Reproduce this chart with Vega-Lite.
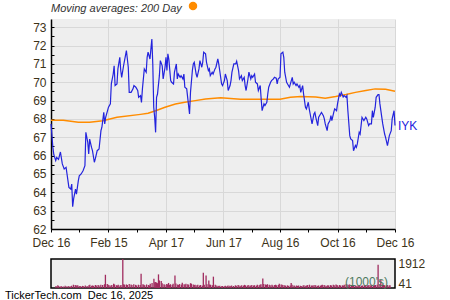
{
  "$schema": "https://vega.github.io/schema/vega-lite/v6.json",
  "autosize": {"type": "pad"},
  "padding": {"left": 5, "top": 1, "right": 5, "bottom": 0},
  "config": {"font": "Liberation Sans", "view": {"stroke": null}, "axis": {"labelOverlap": false}},
  "title": {"text": "TickerTech.com\u00a0\u00a0Dec 16, 2025", "orient": "bottom", "anchor": "start", "frame": "group", "dx": -46, "offset": 0, "fontSize": 11, "fontWeight": "normal", "color": "#000000"},
  "datasets": {
    "prices": [
      {"date":"2024-12-16","close":67.73,"volume":150},{"date":"2024-12-18","close":66.45,"volume":210},{"date":"2024-12-19","close":66.05,"volume":160},{"date":"2024-12-21","close":65.73,"volume":120},{"date":"2024-12-22","close":65.9,"volume":140},{"date":"2024-12-24","close":65.8,"volume":110},{"date":"2024-12-26","close":66.2,"volume":170},{"date":"2024-12-28","close":65.55,"volume":130},{"date":"2024-12-30","close":65.27,"volume":160},
      {"date":"2025-01-01","close":65.36,"volume":120},{"date":"2025-01-02","close":65.0,"volume":180},{"date":"2025-01-04","close":64.27,"volume":260},{"date":"2025-01-06","close":64.18,"volume":230},{"date":"2025-01-07","close":64.45,"volume":170},{"date":"2025-01-08","close":63.22,"volume":220},{"date":"2025-01-09","close":63.64,"volume":190},{"date":"2025-01-11","close":64.18,"volume":150},{"date":"2025-01-12","close":63.9,"volume":130},{"date":"2025-01-14","close":64.64,"volume":170},{"date":"2025-01-15","close":64.9,"volume":140},{"date":"2025-01-17","close":65.0,"volume":190},{"date":"2025-01-19","close":65.18,"volume":160},{"date":"2025-01-21","close":65.45,"volume":210},{"date":"2025-01-22","close":67.27,"volume":250},{"date":"2025-01-24","close":66.73,"volume":180},{"date":"2025-01-25","close":66.09,"volume":200},{"date":"2025-01-26","close":66.9,"volume":170},{"date":"2025-01-28","close":66.45,"volume":230},{"date":"2025-01-29","close":66.27,"volume":190},{"date":"2025-01-31","close":65.64,"volume":240},
      {"date":"2025-02-01","close":65.82,"volume":200},{"date":"2025-02-03","close":66.27,"volume":260},{"date":"2025-02-05","close":66.36,"volume":230},{"date":"2025-02-07","close":67.36,"volume":300},{"date":"2025-02-08","close":67.55,"volume":1050},{"date":"2025-02-10","close":68.36,"volume":320},{"date":"2025-02-11","close":67.73,"volume":250},{"date":"2025-02-12","close":68.09,"volume":210},{"date":"2025-02-14","close":68.45,"volume":190},{"date":"2025-02-15","close":68.64,"volume":230},{"date":"2025-02-17","close":68.82,"volume":340},{"date":"2025-02-18","close":69.91,"volume":280},{"date":"2025-02-20","close":70.45,"volume":220},{"date":"2025-02-21","close":70.9,"volume":200},{"date":"2025-02-22","close":69.82,"volume":260},{"date":"2025-02-24","close":69.91,"volume":190},{"date":"2025-02-25","close":70.73,"volume":240},{"date":"2025-02-27","close":71.36,"volume":2300},{"date":"2025-02-28","close":70.64,"volume":300},
      {"date":"2025-03-01","close":70.27,"volume":260},{"date":"2025-03-03","close":70.9,"volume":280},{"date":"2025-03-04","close":71.18,"volume":240},{"date":"2025-03-06","close":71.73,"volume":310},{"date":"2025-03-08","close":70.82,"volume":270},{"date":"2025-03-09","close":69.45,"volume":230},{"date":"2025-03-11","close":69.45,"volume":290},{"date":"2025-03-13","close":69.64,"volume":250},{"date":"2025-03-14","close":69.82,"volume":200},{"date":"2025-03-16","close":69.73,"volume":260},{"date":"2025-03-18","close":69.55,"volume":240},{"date":"2025-03-19","close":69.18,"volume":1130},{"date":"2025-03-21","close":69.27,"volume":300},{"date":"2025-03-22","close":68.9,"volume":250},{"date":"2025-03-23","close":69.64,"volume":220},{"date":"2025-03-25","close":70.73,"volume":280},{"date":"2025-03-27","close":70.55,"volume":240},{"date":"2025-03-28","close":71.36,"volume":200},{"date":"2025-03-29","close":71.64,"volume":330},{"date":"2025-03-31","close":71.27,"volume":390},
      {"date":"2025-04-02","close":72.36,"volume":730},{"date":"2025-04-03","close":71.0,"volume":450},{"date":"2025-04-04","close":68.64,"volume":480},{"date":"2025-04-05","close":68.09,"volume":420},{"date":"2025-04-06","close":67.27,"volume":380},{"date":"2025-04-07","close":69.18,"volume":1080},{"date":"2025-04-08","close":69.36,"volume":600},{"date":"2025-04-10","close":70.36,"volume":560},{"date":"2025-04-11","close":71.18,"volume":380},{"date":"2025-04-13","close":70.9,"volume":300},{"date":"2025-04-14","close":70.18,"volume":260},{"date":"2025-04-16","close":70.82,"volume":320},{"date":"2025-04-17","close":71.36,"volume":280},{"date":"2025-04-18","close":70.64,"volume":400},{"date":"2025-04-19","close":71.55,"volume":240},{"date":"2025-04-20","close":71.27,"volume":300},{"date":"2025-04-22","close":70.09,"volume":260},{"date":"2025-04-23","close":70.0,"volume":330},{"date":"2025-04-25","close":69.91,"volume":1000},{"date":"2025-04-26","close":70.55,"volume":350},{"date":"2025-04-28","close":71.0,"volume":280},{"date":"2025-04-29","close":70.18,"volume":240},{"date":"2025-04-30","close":70.45,"volume":310},
      {"date":"2025-05-02","close":70.27,"volume":270},{"date":"2025-05-03","close":70.36,"volume":420},{"date":"2025-05-05","close":70.18,"volume":300},{"date":"2025-05-06","close":70.45,"volume":250},{"date":"2025-05-07","close":69.73,"volume":340},{"date":"2025-05-09","close":69.64,"volume":300},{"date":"2025-05-10","close":69.18,"volume":260},{"date":"2025-05-12","close":68.27,"volume":380},{"date":"2025-05-13","close":69.45,"volume":340},{"date":"2025-05-15","close":70.64,"volume":280},{"date":"2025-05-16","close":71.0,"volume":230},{"date":"2025-05-17","close":71.09,"volume":260},{"date":"2025-05-19","close":70.45,"volume":210},{"date":"2025-05-20","close":70.27,"volume":250},{"date":"2025-05-22","close":70.73,"volume":200},{"date":"2025-05-23","close":71.18,"volume":240},{"date":"2025-05-25","close":70.82,"volume":190},{"date":"2025-05-26","close":71.09,"volume":1200},{"date":"2025-05-27","close":71.64,"volume":260},{"date":"2025-05-29","close":71.55,"volume":1000},{"date":"2025-05-30","close":71.09,"volume":300},
      {"date":"2025-06-01","close":70.64,"volume":600},{"date":"2025-06-02","close":70.73,"volume":280},{"date":"2025-06-03","close":70.36,"volume":250},{"date":"2025-06-05","close":70.55,"volume":220},{"date":"2025-06-06","close":70.45,"volume":900},{"date":"2025-06-08","close":70.73,"volume":260},{"date":"2025-06-09","close":70.82,"volume":200},{"date":"2025-06-11","close":71.27,"volume":180},{"date":"2025-06-12","close":71.0,"volume":150},{"date":"2025-06-13","close":70.64,"volume":170},{"date":"2025-06-15","close":69.91,"volume":140},{"date":"2025-06-16","close":69.82,"volume":160},{"date":"2025-06-18","close":70.09,"volume":130},{"date":"2025-06-19","close":70.45,"volume":180},{"date":"2025-06-21","close":70.09,"volume":150},{"date":"2025-06-22","close":69.55,"volume":200},{"date":"2025-06-24","close":69.82,"volume":170},{"date":"2025-06-25","close":70.09,"volume":140},{"date":"2025-06-26","close":70.55,"volume":190},{"date":"2025-06-28","close":71.0,"volume":160},{"date":"2025-06-30","close":71.0,"volume":210},
      {"date":"2025-07-01","close":71.15,"volume":180},{"date":"2025-07-03","close":70.64,"volume":230},{"date":"2025-07-04","close":70.18,"volume":200},{"date":"2025-07-06","close":70.36,"volume":170},{"date":"2025-07-07","close":70.09,"volume":220},{"date":"2025-07-09","close":70.27,"volume":190},{"date":"2025-07-10","close":69.82,"volume":250},{"date":"2025-07-11","close":69.55,"volume":210},{"date":"2025-07-13","close":70.18,"volume":180},{"date":"2025-07-14","close":70.55,"volume":230},{"date":"2025-07-16","close":70.18,"volume":200},{"date":"2025-07-17","close":70.36,"volume":170},{"date":"2025-07-18","close":70.27,"volume":240},{"date":"2025-07-20","close":70.45,"volume":190},{"date":"2025-07-21","close":70.0,"volume":220},{"date":"2025-07-23","close":69.91,"volume":180},{"date":"2025-07-24","close":69.55,"volume":250},{"date":"2025-07-26","close":69.82,"volume":210},{"date":"2025-07-27","close":69.09,"volume":260},{"date":"2025-07-28","close":68.45,"volume":300},{"date":"2025-07-30","close":68.82,"volume":750},{"date":"2025-07-31","close":68.73,"volume":320},
      {"date":"2025-08-02","close":68.91,"volume":280},{"date":"2025-08-03","close":69.36,"volume":240},{"date":"2025-08-04","close":69.73,"volume":300},{"date":"2025-08-06","close":70.0,"volume":260},{"date":"2025-08-07","close":70.09,"volume":220},{"date":"2025-08-09","close":70.18,"volume":250},{"date":"2025-08-10","close":70.27,"volume":190},{"date":"2025-08-12","close":70.22,"volume":230},{"date":"2025-08-13","close":69.91,"volume":260},{"date":"2025-08-14","close":70.18,"volume":210},{"date":"2025-08-16","close":70.27,"volume":240},{"date":"2025-08-17","close":71.55,"volume":330},{"date":"2025-08-19","close":71.64,"volume":280},{"date":"2025-08-20","close":71.36,"volume":260},{"date":"2025-08-21","close":70.55,"volume":240},{"date":"2025-08-23","close":70.0,"volume":220},{"date":"2025-08-24","close":69.91,"volume":180},{"date":"2025-08-26","close":69.73,"volume":210},{"date":"2025-08-27","close":69.91,"volume":170},{"date":"2025-08-29","close":70.27,"volume":200},{"date":"2025-08-30","close":69.91,"volume":400},{"date":"2025-08-31","close":70.0,"volume":250},
      {"date":"2025-09-02","close":69.82,"volume":200},{"date":"2025-09-03","close":69.91,"volume":170},{"date":"2025-09-05","close":69.73,"volume":190},{"date":"2025-09-06","close":69.82,"volume":160},{"date":"2025-09-07","close":69.45,"volume":200},{"date":"2025-09-09","close":69.82,"volume":180},{"date":"2025-09-10","close":69.36,"volume":150},{"date":"2025-09-12","close":68.64,"volume":190},{"date":"2025-09-13","close":68.55,"volume":210},{"date":"2025-09-15","close":68.91,"volume":170},{"date":"2025-09-16","close":68.55,"volume":200},{"date":"2025-09-17","close":68.27,"volume":230},{"date":"2025-09-19","close":67.73,"volume":260},{"date":"2025-09-21","close":68.27,"volume":200},{"date":"2025-09-22","close":68.36,"volume":180},{"date":"2025-09-23","close":68.09,"volume":210},{"date":"2025-09-25","close":67.64,"volume":240},{"date":"2025-09-26","close":68.09,"volume":190},{"date":"2025-09-28","close":68.27,"volume":170},{"date":"2025-09-29","close":68.36,"volume":200},
      {"date":"2025-10-01","close":68.18,"volume":180},{"date":"2025-10-02","close":68.0,"volume":220},{"date":"2025-10-03","close":67.73,"volume":250},{"date":"2025-10-05","close":67.36,"volume":230},{"date":"2025-10-06","close":67.73,"volume":200},{"date":"2025-10-08","close":67.91,"volume":180},{"date":"2025-10-09","close":68.18,"volume":210},{"date":"2025-10-10","close":67.91,"volume":190},{"date":"2025-10-12","close":68.36,"volume":230},{"date":"2025-10-13","close":68.55,"volume":200},{"date":"2025-10-15","close":68.45,"volume":250},{"date":"2025-10-16","close":68.82,"volume":220},{"date":"2025-10-18","close":69.36,"volume":280},{"date":"2025-10-19","close":69.27,"volume":240},{"date":"2025-10-20","close":69.45,"volume":200},{"date":"2025-10-22","close":69.2,"volume":230},{"date":"2025-10-23","close":69.27,"volume":190},{"date":"2025-10-25","close":69.18,"volume":210},{"date":"2025-10-26","close":69.27,"volume":180},{"date":"2025-10-27","close":68.45,"volume":260},{"date":"2025-10-29","close":67.09,"volume":300},{"date":"2025-10-30","close":66.91,"volume":280},
      {"date":"2025-11-01","close":66.82,"volume":250},{"date":"2025-11-02","close":66.27,"volume":270},{"date":"2025-11-04","close":66.55,"volume":230},{"date":"2025-11-05","close":66.45,"volume":210},{"date":"2025-11-06","close":66.64,"volume":240},{"date":"2025-11-08","close":67.27,"volume":200},{"date":"2025-11-09","close":67.18,"volume":180},{"date":"2025-11-11","close":68.09,"volume":220},{"date":"2025-11-12","close":68.0,"volume":190},{"date":"2025-11-13","close":67.91,"volume":210},{"date":"2025-11-15","close":68.09,"volume":180},{"date":"2025-11-16","close":68.0,"volume":200},{"date":"2025-11-18","close":67.64,"volume":230},{"date":"2025-11-19","close":67.73,"volume":190},{"date":"2025-11-21","close":67.73,"volume":220},{"date":"2025-11-22","close":68.45,"volume":200},{"date":"2025-11-23","close":68.09,"volume":240},{"date":"2025-11-25","close":68.64,"volume":210},{"date":"2025-11-26","close":69.18,"volume":250},{"date":"2025-11-28","close":69.33,"volume":190},{"date":"2025-11-29","close":69.33,"volume":220},{"date":"2025-11-30","close":68.82,"volume":240},
      {"date":"2025-12-02","close":68.09,"volume":260},{"date":"2025-12-03","close":67.73,"volume":1850},{"date":"2025-12-05","close":67.18,"volume":300},{"date":"2025-12-06","close":67.0,"volume":650},{"date":"2025-12-08","close":66.55,"volume":280},{"date":"2025-12-09","close":66.82,"volume":240},{"date":"2025-12-10","close":67.09,"volume":220},{"date":"2025-12-12","close":67.36,"volume":200},{"date":"2025-12-13","close":68.0,"volume":230},{"date":"2025-12-15","close":68.45,"volume":190},{"date":"2025-12-16","close":67.64,"volume":210}
    ],
    "ma": [
      {"date":"2024-12-16","ma":67.93},{"date":"2024-12-29","ma":67.93},{"date":"2025-01-14","ma":67.82},{"date":"2025-01-26","ma":67.82},{"date":"2025-02-09","ma":67.9},{"date":"2025-02-24","ma":68.09},{"date":"2025-03-21","ma":68.25},{"date":"2025-03-29","ma":68.31},{"date":"2025-04-06","ma":68.45},{"date":"2025-04-16","ma":68.64},{"date":"2025-04-27","ma":68.82},{"date":"2025-05-07","ma":68.91},{"date":"2025-05-18","ma":69.0},{"date":"2025-05-29","ma":69.09},{"date":"2025-06-14","ma":69.15},{"date":"2025-07-05","ma":69.07},{"date":"2025-08-16","ma":69.07},{"date":"2025-08-27","ma":69.18},{"date":"2025-09-07","ma":69.22},{"date":"2025-09-23","ma":69.2},{"date":"2025-10-03","ma":69.13},{"date":"2025-10-14","ma":69.22},{"date":"2025-10-25","ma":69.33},{"date":"2025-11-04","ma":69.45},{"date":"2025-11-15","ma":69.55},{"date":"2025-11-25","ma":69.64},{"date":"2025-12-06","ma":69.62},{"date":"2025-12-16","ma":69.51}
    ]
  },
  "spacing": 30,
  "bounds": "flush",
  "vconcat": [
    {
      "width": 344,
      "height": 210,
      "view": {"fill": "#eeeeee", "stroke": null},
      "layer": [
        {
          "data": {"name": "ma"},
          "mark": {"type": "line", "strokeWidth": 1.5},
          "encoding": {
            "x": {"field": "date", "type": "temporal",
              "scale": {"type": "utc", "domain": [{"year": 2024, "month": 12, "date": 16, "utc": true}, {"year": 2025, "month": 12, "date": 16, "utc": true}]},
              "axis": {
                "title": null,
                "values": [
                  {"year": 2024, "month": 12, "date": 16, "utc": true},
                  {"year": 2025, "month": 1, "date": 15, "utc": true},
                  {"year": 2025, "month": 2, "date": 15, "utc": true},
                  {"year": 2025, "month": 3, "date": 17, "utc": true},
                  {"year": 2025, "month": 4, "date": 17, "utc": true},
                  {"year": 2025, "month": 5, "date": 17, "utc": true},
                  {"year": 2025, "month": 6, "date": 17, "utc": true},
                  {"year": 2025, "month": 7, "date": 17, "utc": true},
                  {"year": 2025, "month": 8, "date": 16, "utc": true},
                  {"year": 2025, "month": 9, "date": 15, "utc": true},
                  {"year": 2025, "month": 10, "date": 16, "utc": true},
                  {"year": 2025, "month": 11, "date": 15, "utc": true},
                  {"year": 2025, "month": 12, "date": 16, "utc": true}
                ],
                "format": "%b %d",
                "labelExpr": "utcmonth(datum.value) % 2 == 1 ? datum.label : ''",
                "grid": true,
                "gridColor": "#d8d8d8",
                "gridOpacity": {"condition": {"test": "utcmonth(datum.value) % 2 == 1", "value": 1}, "value": 0},
                "domainColor": "#000000",
                "domainWidth": 1.5,
                "tickColor": "#000000",
                "tickSize": 3,
                "labelPadding": 5,
                "labelFontSize": 12,
                "labelColor": "#3d3319",
                "labelFlush": false,
                "labelOverlap": false
              }
            },
            "y": {"field": "ma", "type": "quantitative",
              "scale": {"domain": [62, 73.45], "nice": false, "zero": false},
              "axis": {
                "title": null,
                "values": [62, 62.5, 63, 63.5, 64, 64.5, 65, 65.5, 66, 66.5, 67, 67.5, 68, 68.5, 69, 69.5, 70, 70.5, 71, 71.5, 72, 72.5, 73],
                "format": ".0f",
                "labelExpr": "datum.value % 1 == 0 ? datum.label : ''",
                "grid": true,
                "gridColor": "#d8d8d8",
                "gridOpacity": {"condition": {"test": "datum.value % 1 == 0", "value": 1}, "value": 0},
                "domainColor": "#000000",
                "domainWidth": 1.5,
                "tickColor": "#000000",
                "tickSize": -3,
                "labelPadding": 8,
                "labelFontSize": 12,
                "labelColor": "#3d3319",
                "labelOverlap": false,
                "labelBound": false
              }
            },
            "color": {
              "datum": "200 Day",
              "scale": {"range": ["#ff8c00"]},
              "legend": {
                "orient": "top",
                "title": "Moving averages: 200 Day",
                "titleOrient": "left",
                "titleFontStyle": "italic",
                "titleFontWeight": "normal",
                "titleFontSize": 11,
                "titleColor": "#333333",
                "titlePadding": 6,
                "labelExpr": "''",
                "symbolType": "circle",
                "symbolSize": 20,
                "symbolStrokeWidth": 4,
                "symbolFillColor": "#ff8c00",
                "offset": 2,
                "padding": 0
              }
            }
          }
        },
        {
          "data": {"name": "prices"},
          "encoding": {
            "x": {"field": "date", "type": "temporal",
              "scale": {"type": "utc", "domain": [{"year": 2024, "month": 12, "date": 16, "utc": true}, {"year": 2025, "month": 12, "date": 16, "utc": true}]},
              "axis": {
                "title": null,
                "values": [
                  {"year": 2024, "month": 12, "date": 16, "utc": true},
                  {"year": 2025, "month": 1, "date": 15, "utc": true},
                  {"year": 2025, "month": 2, "date": 15, "utc": true},
                  {"year": 2025, "month": 3, "date": 17, "utc": true},
                  {"year": 2025, "month": 4, "date": 17, "utc": true},
                  {"year": 2025, "month": 5, "date": 17, "utc": true},
                  {"year": 2025, "month": 6, "date": 17, "utc": true},
                  {"year": 2025, "month": 7, "date": 17, "utc": true},
                  {"year": 2025, "month": 8, "date": 16, "utc": true},
                  {"year": 2025, "month": 9, "date": 15, "utc": true},
                  {"year": 2025, "month": 10, "date": 16, "utc": true},
                  {"year": 2025, "month": 11, "date": 15, "utc": true},
                  {"year": 2025, "month": 12, "date": 16, "utc": true}
                ],
                "format": "%b %d",
                "labelExpr": "utcmonth(datum.value) % 2 == 1 ? datum.label : ''",
                "grid": true,
                "gridColor": "#d8d8d8",
                "gridOpacity": {"condition": {"test": "utcmonth(datum.value) % 2 == 1", "value": 1}, "value": 0},
                "domainColor": "#000000",
                "domainWidth": 1.5,
                "tickColor": "#000000",
                "tickSize": 3,
                "labelPadding": 5,
                "labelFontSize": 12,
                "labelColor": "#3d3319",
                "labelFlush": false,
                "labelOverlap": false
              }
            },
            "y": {"field": "close", "type": "quantitative",
              "scale": {"domain": [62, 73.45], "nice": false, "zero": false},
              "axis": {
                "title": null,
                "values": [62, 62.5, 63, 63.5, 64, 64.5, 65, 65.5, 66, 66.5, 67, 67.5, 68, 68.5, 69, 69.5, 70, 70.5, 71, 71.5, 72, 72.5, 73],
                "format": ".0f",
                "labelExpr": "datum.value % 1 == 0 ? datum.label : ''",
                "grid": true,
                "gridColor": "#d8d8d8",
                "gridOpacity": {"condition": {"test": "datum.value % 1 == 0", "value": 1}, "value": 0},
                "domainColor": "#000000",
                "domainWidth": 1.5,
                "tickColor": "#000000",
                "tickSize": -3,
                "labelPadding": 8,
                "labelFontSize": 12,
                "labelColor": "#3d3319",
                "labelOverlap": false,
                "labelBound": false
              }
            }
          },
          "layer": [
            {"mark": {"type": "line", "color": "#2323dd", "strokeWidth": 1.2}},
            {
              "transform": [{"filter": {"field": "date", "equal": {"year": 2025, "month": 12, "date": 16, "utc": true}}}],
              "mark": {"type": "text", "align": "left", "baseline": "middle", "dx": 3, "fontSize": 12, "color": "#2323dd"},
              "encoding": {"text": {"value": "IYK"}}
            }
          ]
        }
      ]
    },
    {
      "width": 344,
      "height": 29,
      "view": {"fill": "#eeeeee", "stroke": "#000000", "strokeWidth": 1.5},
      "layer": [
        {
          "data": {"name": "prices"},
          "mark": {"type": "bar", "color": "#a02c5f", "width": 1.3},
          "encoding": {
            "x": {"field": "date", "type": "temporal",
              "scale": {"type": "utc", "domain": [{"year": 2024, "month": 12, "date": 16, "utc": true}, {"year": 2025, "month": 12, "date": 16, "utc": true}]},
              "axis": null},
            "y": {"field": "volume", "type": "quantitative",
              "scale": {"domain": [0, 2300], "nice": false},
              "axis": {
                "orient": "right",
                "title": null,
                "values": [41, 1912],
                "format": "d",
                "ticks": false,
                "domain": false,
                "grid": false,
                "labelPadding": 3,
                "labelFontSize": 12,
                "labelColor": "#3d3319",
                "labelOverlap": false,
                "labelFlush": false,
                "labelBaseline": {"condition": {"test": "datum.value < 100", "value": "alphabetic"}, "value": "middle"}
              }
            }
          }
        },
        {
          "data": {"values": [{}]},
          "mark": {"type": "text", "align": "right", "baseline": "alphabetic", "dx": -2, "dy": -2, "fontSize": 12, "color": "#4f7a5f"},
          "encoding": {
            "x": {"datum": {"year": 2025, "month": 12, "date": 16, "utc": true}},
            "y": {"datum": 0},
            "text": {"value": "(1000's)"}
          }
        }
      ]
    }
  ]
}
